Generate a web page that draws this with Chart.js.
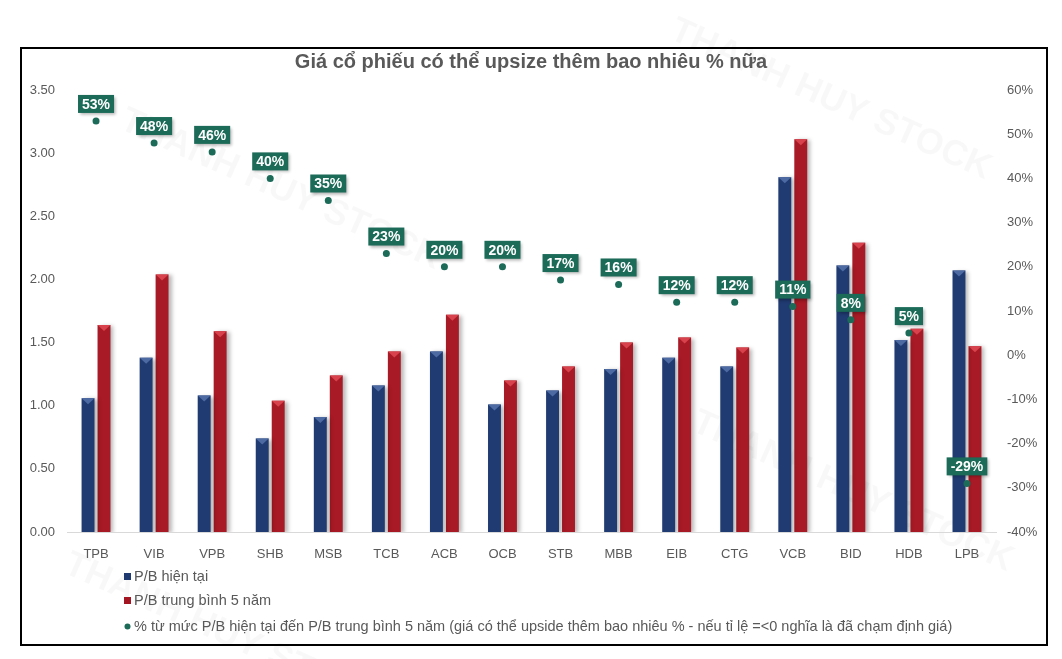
<!DOCTYPE html>
<html><head><meta charset="utf-8">
<script src="https://cdn.jsdelivr.net/npm/chart.js@4"></script>
<style>html,body{margin:0;padding:0;background:#fff;}#wrap{width:1062px;height:659px;position:relative;}</style>
</head><body><div id="wrap"><canvas id="c" width="1062" height="659"></canvas></div>
<script>
const categories = ['TPB','VIB','VPB','SHB','MSB','TCB','ACB','OCB','STB','MBB','EIB','CTG','VCB','BID','HDB','LPB'];
const pbCurrent = [1.06,1.38,1.08,0.74,0.91,1.16,1.43,1.01,1.12,1.29,1.38,1.31,2.81,2.11,1.52,2.07];
const pbAvg5y  = [1.64,2.04,1.59,1.04,1.24,1.43,1.72,1.20,1.31,1.50,1.54,1.46,3.11,2.29,1.61,1.47];
const upsidePct = [53,48,46,40,35,23,20,20,17,16,12,12,11,8,5,-29];
const leftTickRange = [0, 3.5, 0.5];
const rightTickRange = [-40, 60, 10];
const titleText = 'Giá cổ phiếu có thể upsize thêm bao nhiêu % nữa';
const seriesNames = ['P/B hiện tại','P/B trung bình 5 năm','% từ mức P/B hiện tại đến P/B trung bình 5 năm (giá có thể upside thêm bao nhiêu % - nếu tỉ lệ =<0 nghĩa là đã chạm định giá)'];

const FONT = "'Liberation Sans', Arial, sans-serif";
const TXT = '#595959';
const GREEN = '#1b6b58';

function barGrad(ctx, colors){
  const chart = ctx.chart;
  if(!chart.chartArea || ctx.type !== 'data') return colors[1];
  const el = chart.getDatasetMeta(ctx.datasetIndex).data[ctx.dataIndex];
  if(!el || !el.width) return colors[1];
  const x0 = el.x - el.width/2, x1 = el.x + el.width/2;
  const g = chart.ctx.createLinearGradient(x0,0,x1,0);
  g.addColorStop(0, colors[0]); g.addColorStop(0.35, colors[1]); g.addColorStop(1, colors[2]);
  return g;
}

const decor = {
  id:'decor',
  beforeDraw(chart){
    const c = chart.ctx;
    c.save();
    c.fillStyle = '#fff'; c.fillRect(0,0,chart.width,chart.height);
    // watermarks
    c.fillStyle = 'rgba(0,0,0,0.028)';
    c.font = "bold 36px " + FONT;
    const wm = [[668,38,0.42],[118,128,0.42],[690,430,0.42],[62,572,0.42]];
    wm.forEach(([x,y,a])=>{c.save();c.translate(x,y);c.rotate(a);c.fillText('THANH HUY STOCK',0,0);c.restore();});
    c.restore();
  },
  beforeDatasetDraw(chart,args){
    if(args.index<2){
      const c=chart.ctx; c.save();
      c.shadowColor='rgba(0,0,0,0.28)'; c.shadowOffsetX=3; c.shadowOffsetY=1; c.shadowBlur=4;
    }
  },
  afterDatasetDraw(chart,args){
    if(args.index<2){
      const c=chart.ctx; c.restore();
      c.save();
      c.fillStyle = args.index===0 ? '#4d6aa3' : '#d7424c';
      args.meta.data.forEach(el=>{
        const l=el.x-el.width/2, r=el.x+el.width/2;
        c.beginPath(); c.moveTo(l,el.y); c.lineTo(r,el.y); c.lineTo(el.x,el.y+6); c.closePath(); c.fill();
      });
      c.restore();
    }
  },
  afterDatasetsDraw(chart){
    const c = chart.ctx;
    const meta = chart.getDatasetMeta(2);
    c.save();
    c.font = "bold 14px " + FONT;
    c.textAlign='center'; c.textBaseline='middle';
    meta.data.forEach((p,i)=>{
      const t = upsidePct[i] + '%';
      const w = c.measureText(t).width + 8;
      const h = 18;
      const bx = p.x - w/2, by = p.y - 8 - h;
      c.save();
      c.shadowColor='rgba(0,0,0,0.3)'; c.shadowOffsetX=2; c.shadowOffsetY=2; c.shadowBlur=3;
      c.fillStyle = GREEN; c.fillRect(bx,by,w,h);
      c.restore();
      c.fillStyle='#fff'; c.fillText(t, p.x, by+h/2+1);
    });
    c.restore();
  },
  afterDraw(chart){
    const c = chart.ctx;
    c.save();
    // legend
    c.font = "14.5px " + FONT; c.fillStyle = TXT; c.textBaseline='middle'; c.textAlign='left';
    const ys = [577,601,627];
    const cols = ['#1f3a70','#a31621',GREEN];
    ys.forEach((y,i)=>{
      if(i<2){ c.fillStyle=cols[i]; c.fillRect(124,y-4,7,7); }
      else { c.fillStyle=cols[i]; c.beginPath(); c.arc(127.5,y-0.5,3,0,Math.PI*2); c.fill(); }
      c.fillStyle=TXT; c.fillText(chart.data.datasets[i].label, 134, y);
    });
    // border
    c.strokeStyle='#000'; c.lineWidth=2;
    c.strokeRect(21,48,1026,597);
    c.restore();
  }
};

new Chart(document.getElementById('c'), {
  data:{
    labels: categories,
    datasets:[
      {type:'bar', label:seriesNames[0], data:pbCurrent, yAxisID:'y', order:2,
       backgroundColor:(ctx)=>barGrad(ctx,['#2c4a86','#203b72','#152a55']),
       categoryPercentage:0.55, barPercentage:0.81},
      {type:'bar', label:seriesNames[1], data:pbAvg5y, yAxisID:'y', order:2,
       backgroundColor:(ctx)=>barGrad(ctx,['#c02532','#a81a25','#85111a']),
       categoryPercentage:0.55, barPercentage:0.81},
      {type:'line', label:seriesNames[2], data:upsidePct, yAxisID:'y1', order:1,
       showLine:false, pointRadius:3.5, pointBackgroundColor:GREEN, pointBorderColor:GREEN, pointBorderWidth:0}
    ]
  },
  options:{
    responsive:false, animation:false,
    layout:{padding:{left:0,right:0,top:0,bottom:0}},
    plugins:{
      legend:{display:false}, tooltip:{enabled:false},
      title:{display:true, text:titleText, color:TXT, font:{family:FONT, size:20, weight:'bold'}, padding:{top:50,bottom:16}}
    },
    scales:{
      x:{grid:{display:false}, border:{display:true,color:'#d9d9d9'},
         ticks:{color:TXT, font:{family:FONT,size:13}, padding:7},
         afterFit:(s)=>{s.height=127;}},
      y:{position:'left', min:leftTickRange[0], max:leftTickRange[1],
         grid:{display:false, drawTicks:false}, border:{display:false},
         ticks:{stepSize:leftTickRange[2], color:TXT, font:{family:FONT,size:13}, padding:12, callback:(v)=>v.toFixed(2)},
         afterFit:(s)=>{s.width=67;}},
      y1:{position:'right', min:rightTickRange[0], max:rightTickRange[1],
         grid:{display:false, drawTicks:false}, border:{display:false},
         ticks:{stepSize:rightTickRange[2], color:TXT, font:{family:FONT,size:13}, padding:11, callback:(v)=>v+'%'},
         afterFit:(s)=>{s.width=66;}}
    }
  },
  plugins:[decor]
});
</script></body></html>
